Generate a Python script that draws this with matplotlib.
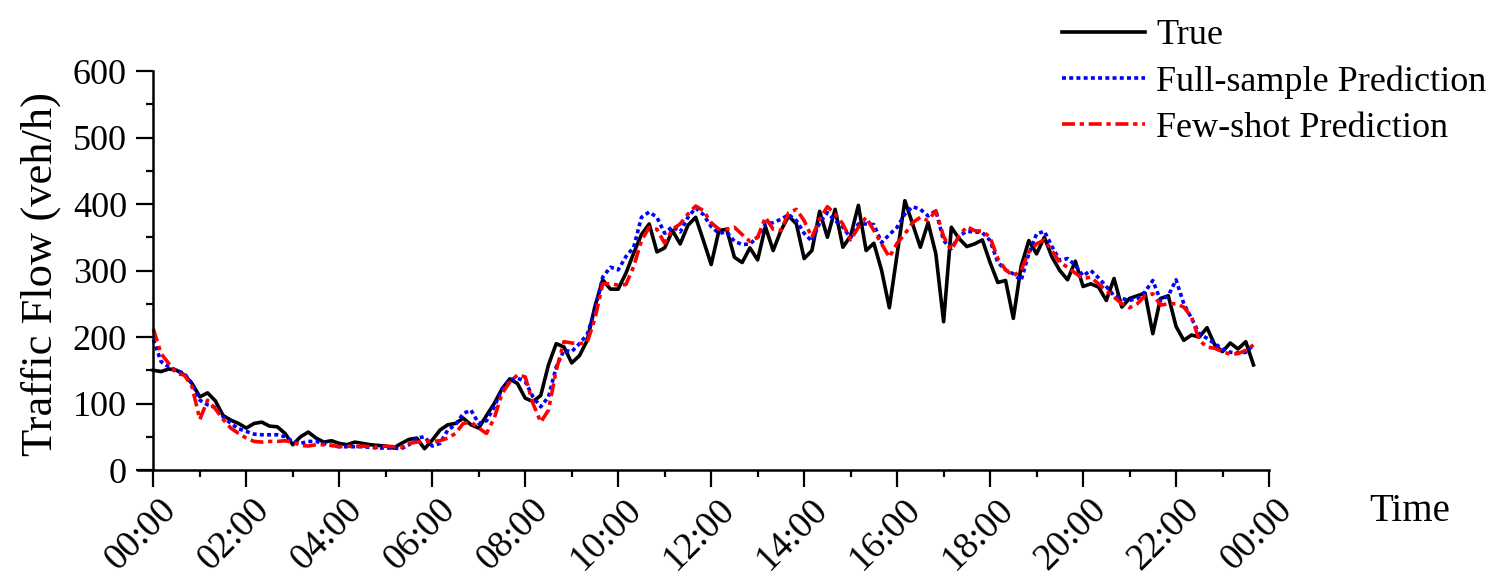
import numpy as np
import matplotlib.pyplot as plt
from matplotlib.transforms import ScaledTranslation

plt.rcParams['font.family'] = ['Liberation Serif', 'DejaVu Serif']

# traffic flow (veh/h), one reading every 10 minutes from 00:00
true_flow = [150, 148, 152, 150, 143, 130, 110, 116, 104, 82,
             75, 70, 63, 70, 72, 66, 65, 55, 38, 50,
             57, 48, 42, 44, 40, 38, 42, 40, 38, 37,
             36, 33, 40, 46, 48, 32, 45, 60, 68, 70,
             78, 68, 63, 82, 100, 122, 137, 130, 108, 103,
             112, 158, 190, 185, 161, 172, 195, 246, 286, 272,
             272, 296, 326, 354, 370, 328, 334, 360, 340, 368,
             380, 345, 309, 360, 362, 320, 312, 334, 316, 366,
             330, 360, 382, 370, 318, 330, 389, 350, 392, 335,
             352, 398, 330, 341, 300, 244, 325, 405, 370, 335,
             372, 325, 223, 365, 348, 336, 340, 346, 312, 282,
             285, 228, 306, 345, 325, 350, 320, 300, 286, 314,
             276, 280, 275, 255, 288, 245, 258, 262, 266, 205,
             258, 262, 216, 195, 203, 200, 214, 188, 178, 191,
             182, 193, 158]

full_pred = [196, 163, 155, 150, 145, 130, 105, 98, 94, 80,
             70, 62, 58, 54, 53, 53, 53, 50, 43, 40,
             43, 43, 40, 37, 35, 35, 35, 35, 34, 33,
             33, 33, 32, 38, 48, 50, 36, 40, 60, 68,
             85, 90, 70, 74, 95, 122, 136, 138, 133, 110,
             95, 110, 155, 180, 178, 190, 204, 240, 290, 305,
             301, 321, 335, 380, 388, 380, 356, 366, 358, 380,
             394, 384, 366, 356, 358, 344, 339, 340, 350, 370,
             372, 377, 384, 375, 356, 344, 372, 387, 375, 365,
             349, 370, 370, 369, 342, 354, 365, 385, 396, 392,
             382, 390, 345, 333, 352, 359, 358, 357, 345, 312,
             301, 295, 285, 325, 355, 359, 336, 315, 318, 308,
             292, 300, 289, 276, 262, 258, 255, 258, 268, 285,
             255, 262, 286, 250, 228, 205, 198, 190, 182, 177,
             176, 177, 188]

few_pred = [212, 175, 160, 145, 143, 125, 76, 105, 92, 76,
            63, 55, 48, 43, 42, 43, 43, 44, 42, 37,
            36, 38, 38, 37, 35, 36, 35, 36, 35, 34,
            36, 35, 34, 40, 42, 43, 43, 44, 48, 55,
            70, 72, 63, 55, 78, 115, 132, 143, 140, 100,
            72, 90, 150, 193, 191, 190, 192, 228, 280, 280,
            278, 279, 306, 345, 365, 362, 341, 362, 370, 385,
            397, 390, 372, 362, 362, 365, 354, 344, 350, 380,
            362, 360, 387, 392, 375, 350, 377, 396, 385, 370,
            346, 365, 380, 360, 340, 320, 341, 355, 372, 380,
            375, 390, 351, 331, 352, 366, 360, 359, 350, 318,
            301, 292, 300, 328, 340, 346, 330, 312, 305, 296,
            288, 290, 280, 270, 260, 250, 244, 250, 262, 265,
            248, 250, 250, 245, 230, 195, 185, 183, 178, 174,
            175, 180, 188]

hours = np.arange(len(true_flow)) / 6.0
tick_hours = list(range(0, 25, 2))
tick_labels = ['00:00', '02:00', '04:00', '06:00', '08:00', '10:00', '12:00',
               '14:00', '16:00', '18:00', '20:00', '22:00', '00:00']

fig = plt.figure(figsize=(14.95, 5.84), dpi=100)
ax = fig.add_axes([138 / 1495, 0.1952, 1131 / 1495, 0.6832])

ax.plot(hours, true_flow, color='black', lw=2.6, label='True')
ax.plot(hours, full_pred, color='blue', lw=2.6, linestyle=(0, (1.1, 0.9)),
        label='Full-sample Prediction')
ax.plot(hours, few_pred, color='red', lw=2.6, linestyle=(0, (3.6, 1.3, 1.2, 1.3)),
        label='Few-shot Prediction')

ax.set_xlim(-0.33, 24)
ax.set_ylim(0, 600)
ax.spines['left'].set_position(('data', 0))
ax.spines['top'].set_visible(False)
ax.spines['right'].set_visible(False)
for s in ['left', 'bottom']:
    ax.spines[s].set_linewidth(1.8)

ax.set_xticks(tick_hours)
ax.set_xticks(range(1, 24, 2), minor=True)
ax.set_xticklabels(tick_labels, rotation=45, ha='center')
ax.set_yticks(range(0, 601, 100))
ax.set_yticks(range(50, 600, 100), minor=True)
ax.tick_params(which='major', direction='out', length=12, width=1.6, labelsize=26, pad=6)
ax.tick_params(which='minor', direction='out', length=5, width=1.6)
ax.tick_params(axis='y', which='major', pad=7)
ax.tick_params(axis='x', which='major', labelsize=27, pad=4)
for lab in ax.get_xticklabels():
    lab.set_transform(lab.get_transform() + ScaledTranslation(-0.12, 0, fig.dpi_scale_trans))

ax.set_ylabel('Traffic Flow (veh/h)', fontsize=32)
ax.yaxis.set_label_coords(-0.068, 0.49)
ax.set_xlabel('Time', fontsize=28, ha='left', va='center')
ax.xaxis.set_label_coords(1.089, -0.105)

ax.legend(loc='upper left', bbox_to_anchor=(1062 / 1495, 1 - 19 / 584),
          bbox_transform=fig.transFigure, frameon=False, fontsize=26,
          handlelength=2.3, handletextpad=0.3, labelspacing=0.36,
          borderpad=0, borderaxespad=0)

fig.savefig('out.png', dpi=100)
